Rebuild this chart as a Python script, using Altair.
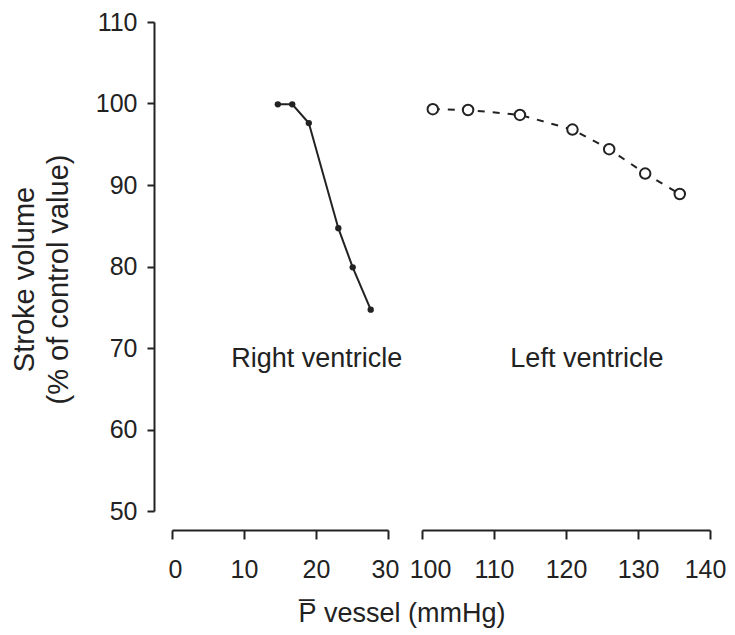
import altair as alt
import pandas as pd

# Right ventricle (pulmonary artery pressure, mmHg) vs stroke volume (% of control)
rv_pressure = [14.7, 16.7, 19.0, 23.1, 25.1, 27.6]
rv_stroke = [99.9, 99.9, 97.6, 84.7, 79.9, 74.7]

# Left ventricle (aortic pressure, mmHg) vs stroke volume (% of control)
lv_pressure = [101.5, 106.4, 113.6, 120.9, 126.0, 131.0, 135.8]
lv_stroke = [99.3, 99.2, 98.6, 96.8, 94.4, 91.4, 88.9]

left_ticks = [0, 10, 20, 30]
right_ticks = [100, 110, 120, 130, 140]
y_ticks = [50, 60, 70, 80, 90, 100, 110]

label_text = ["Right ventricle", "Left ventricle"]
label_x = [20.1, 122.9]
label_y = [68.7, 68.7]

FONT = "Liberation Sans"
FS = 27
LFS = 25
INK = "#222222"

rv = pd.DataFrame({"p": rv_pressure, "sv": rv_stroke})
lv = pd.DataFrame({"p": lv_pressure, "sv": lv_stroke})
lab_l = pd.DataFrame({"p": [label_x[0]], "sv": [label_y[0]], "t": [label_text[0]]})
lab_r = pd.DataFrame({"p": [label_x[1]], "sv": [label_y[1]], "t": [label_text[1]]})

yscale = alt.Scale(domain=[50, 110], nice=False, zero=False)

common_x_axis = dict(
    domainColor=INK, domainWidth=2, tickColor=INK, tickWidth=2, tickSize=9,
    labelFont=FONT, labelFontSize=LFS, labelColor=INK, labelPadding=18,
    grid=False, offset=19, labelFlush=False,
)

y_axis = alt.Axis(
    values=y_ticks, title=["Stroke volume", "(% of control value)"],
    domainColor=INK, domainWidth=2, tickColor=INK, tickWidth=2, tickSize=7,
    labelFont=FONT, labelFontSize=LFS, labelColor=INK, labelPadding=10,
    titleFont=FONT, titleFontSize=29, titleColor=INK, titleFontWeight="normal",
    titleAngle=-90, titleAlign="center", titleBaseline="top", titleLineHeight=34,
    titleX=-144, titleY=257, grid=False, offset=18,
)

x_left = alt.X(
    "p:Q",
    scale=alt.Scale(domain=[0, 30], nice=False, zero=False),
    axis=alt.Axis(
        values=left_ticks, title="P\u0305 vessel (mmHg)",
        titleFont=FONT, titleFontSize=FS, titleColor=INK, titleFontWeight="normal",
        titleAlign="left", titleBaseline="alphabetic", titleX=126, titleY=91,
        labelOffset={"condition": [{"test": "datum.value == 30", "value": -3},
                                   {"test": "datum.value == 0", "value": 3}], "value": 0},
        **common_x_axis,
    ),
)
x_right = alt.X(
    "p:Q",
    scale=alt.Scale(domain=[100, 140], nice=False, zero=False),
    axis=alt.Axis(
        values=right_ticks, title=None,
        labelOffset={"condition": [{"test": "datum.value == 100", "value": 8},
                                   {"test": "datum.value == 140", "value": -5}], "value": 0},
        **common_x_axis,
    ),
)

y_left = alt.Y("sv:Q", scale=yscale, axis=y_axis)
y_right = alt.Y("sv:Q", scale=yscale, axis=None)

left_line = alt.Chart(rv).mark_line(color=INK, strokeWidth=2).encode(x=x_left, y=y_left)
left_pts = alt.Chart(rv).mark_point(filled=True, color=INK, size=40, opacity=1).encode(x=x_left, y=y_left)
left_txt = alt.Chart(lab_l).mark_text(font=FONT, fontSize=FS, color=INK, baseline="middle").encode(
    x=x_left, y=y_left, text="t:N")
left = alt.layer(left_line, left_pts, left_txt).properties(width=216, height=489)

right_line = alt.Chart(lv).mark_line(color=INK, strokeWidth=2, strokeDash=[7, 8]).encode(x=x_right, y=y_right)
right_pts = alt.Chart(lv).mark_point(
    filled=True, fill="white", stroke=INK, strokeWidth=2, size=110, opacity=1
).encode(x=x_right, y=y_right)
right_txt = alt.Chart(lab_r).mark_text(font=FONT, fontSize=FS, color=INK, baseline="middle").encode(
    x=x_right, y=y_right, text="t:N")
right = alt.layer(right_line, right_pts, right_txt).properties(width=288, height=489)

chart = alt.hconcat(left, right, spacing=34, bounds="flush").properties(
    padding={"left": 2, "top": 2, "right": 0, "bottom": 6},
    background="white",
).configure_view(stroke=None)

chart.save("out.html", embed_options={"renderer": "svg", "actions": False})
